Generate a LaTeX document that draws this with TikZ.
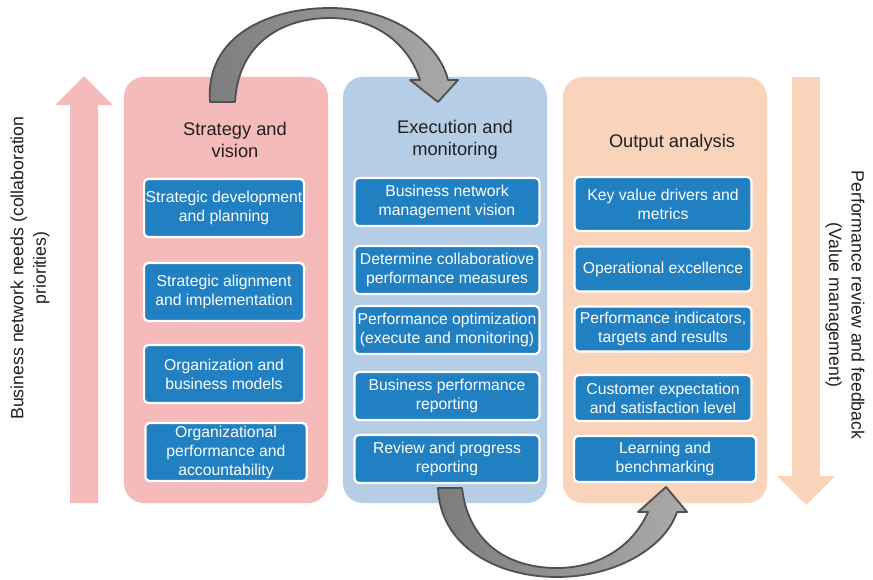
\documentclass[tikz,border=0pt]{standalone}
\usepackage{fontspec}
\setmainfont{Liberation Sans}

\definecolor{panelpink}{RGB}{245,187,187}
\definecolor{panelblue}{RGB}{181,206,229}
\definecolor{panelorange}{RGB}{250,212,186}
\definecolor{boxblue}{RGB}{32,128,194}
\definecolor{arrowdark}{RGB}{125,125,125}
\definecolor{arrowlight}{RGB}{170,170,170}
\definecolor{arrowline}{RGB}{80,80,80}
\definecolor{txt}{RGB}{35,31,32}

\tikzset{
	panel/.style={rounded corners=0.5cm, minimum width=5.1cm, minimum height=10.65cm},
	heading/.style={align=center, text=txt, font=\fontsize{13}{15.6}\selectfont},
	taskbox/.style 2 args={fill=boxblue, draw=white, line width=1.6pt, rounded corners=3pt, text=white, align=center, inner sep=1pt, font=\fontsize{11.2}{13.5}\selectfont, minimum width=#1, minimum height=#2},
	sidetext/.style={align=center, text=txt, font=\fontsize{12.6}{16}\selectfont},
	turnarrow/.style={left color=arrowdark, right color=arrowlight, draw=arrowline, line width=1.3pt, line join=round}
}

\begin{document}
\begin{tikzpicture}[x=0.025cm, y=-0.025cm]
	\useasboundingbox (0,0) rectangle (873,579);

	% three columns
	\node[panel, fill=panelpink] (strategy) at (226,290) {};
	\node[panel, fill=panelblue] (execution) at (445,290) {};
	\node[panel, fill=panelorange] (output) at (665,290) {};

	% side arrows
	\fill[panelpink] (70,503) -- (70,105) -- (55,105) -- (84,76) -- (113,105) -- (98,105) -- (98,503) -- cycle;
	\fill[panelorange] (792,77) -- (792,476) -- (777,476) -- (806,505) -- (835,476) -- (820,476) -- (820,77) -- cycle;
	\node[sidetext, rotate=90] (needs) at (30,268) {Business network needs (collaboration\\priorities)};
	\node[sidetext, rotate=-90] (review) at (845,305) {Performance review and feedback\\(Value management)};

	% headings
	\node[heading] (strategyhead) at (235,140) {Strategy and\\vision};
	\node[heading] (executionhead) at (455,140) {Execution and\\monitoring};
	\node[heading] (outputhead) at (672,143) {Output analysis};

	% strategy and vision
	\node[taskbox={4.0cm}{1.45cm}] (sdp) at (224,208) {Strategic development\\and planning};
	\node[taskbox={4.0cm}{1.45cm}] (sai) at (224,292) {Strategic alignment\\and implementation};
	\node[taskbox={4.0cm}{1.45cm}] (obm) at (224,374) {Organization and\\business models};
	\node[taskbox={4.03cm}{1.45cm}] (opa) at (226,452) {Organizational\\performance and\\accountability};

	% execution and monitoring
	\node[taskbox={4.62cm}{1.2cm}] (bnm) at (447,202) {Business network\\management vision};
	\node[taskbox={4.62cm}{1.2cm}] (dcp) at (447,270) {Determine collaboratiove\\performance measures};
	\node[taskbox={4.62cm}{1.2cm}] (pop) at (447,330) {Performance optimization\\(execute and monitoring)};
	\node[taskbox={4.62cm}{1.2cm}] (bpr) at (447,396) {Business performance\\reporting};
	\node[taskbox={4.62cm}{1.2cm}] (rpr) at (447,459) {Review and progress\\reporting};

	% output analysis
	\node[taskbox={4.42cm}{1.35cm}] (kvd) at (663,204) {Key value drivers and\\metrics};
	\node[taskbox={4.42cm}{1.12cm}] (opx) at (663,269) {Operational excellence};
	\node[taskbox={4.42cm}{1.12cm}] (pit) at (663,329) {Performance indicators,\\targets and results};
	\node[taskbox={4.42cm}{1.15cm}] (ces) at (663,398) {Customer expectation\\and satisfaction level};
	\node[taskbox={4.55cm}{1.15cm}] (lbm) at (665,459) {Learning and\\benchmarking};

	% curved arrows between the columns
	\path[turnarrow] (210,102) .. controls (205,35) and (270,8) .. (330,8) .. controls (395,8) and (440,45) .. (448,80)
		-- (458,80) -- (438,102) -- (410,80) -- (420,80)
		.. controls (410,48) and (380,18) .. (330,18) .. controls (280,18) and (238,45) .. (235,102) -- cycle;
	\path[turnarrow] (438,488) .. controls (440,545) and (495,577) .. (557,577) .. controls (615,577) and (665,548) .. (677,512)
		-- (687,512) -- (666,487) -- (638,512) -- (648,512)
		.. controls (632,548) and (597,568) .. (557,568) .. controls (505,568) and (468,540) .. (462,488) -- cycle;
\end{tikzpicture}
\end{document}
